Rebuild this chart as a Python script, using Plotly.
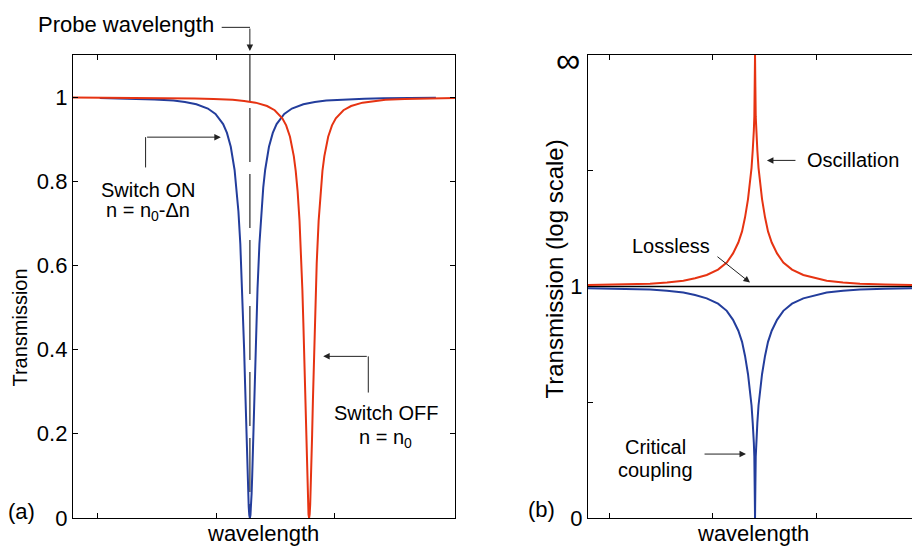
import plotly.graph_objects as go

# ---------------- Panel (a): transmission vs wavelength (arbitrary units 0-100) ----------------
a_blue_x = [7.0, 11.3, 16.3, 21.3, 26.3, 29.3, 32.3, 35.3, 37.3, 39.3, 40.3, 41.3, 42.3, 42.8, 43.3,
            43.8, 44.3, 44.55, 44.8, 45.05, 45.3, 45.5, 45.7, 45.85, 46.0, 46.15, 46.3,
            46.45, 46.6, 46.75, 46.9, 47.1, 47.3, 47.55, 47.8, 48.05, 48.3, 48.8, 49.3, 49.8, 50.3,
            51.3, 52.3, 53.3, 55.3, 57.3, 60.3, 63.3, 66.3, 71.3, 76.3, 81.3, 86.3, 95]
a_blue_T = [0.9978, 0.9973, 0.996, 0.9947, 0.992, 0.9885, 0.983, 0.973, 0.960, 0.936, 0.915, 0.882, 0.827,
            0.785, 0.729, 0.651, 0.544, 0.478, 0.40, 0.318, 0.23, 0.160, 0.097, 0.057, 0.026, 0.0067, 0.0,
            0.0067, 0.026, 0.057, 0.097, 0.160, 0.23, 0.318, 0.40, 0.478, 0.544, 0.651, 0.729, 0.785, 0.827,
            0.882, 0.915, 0.936, 0.960, 0.973, 0.983, 0.9885, 0.992, 0.9947, 0.996, 0.9973, 0.9978, 0.9986]
a_red_x = [0, 16.8, 23.6, 31.8, 36.8, 41.8, 44.8, 47.8, 50.8, 52.8, 54.8, 55.8, 56.8, 57.8, 58.3, 58.8,
           59.3, 59.8, 60.05, 60.3, 60.55, 60.8, 61.0, 61.2, 61.35, 61.5, 61.65, 61.8,
           61.95, 62.1, 62.25, 62.4, 62.6, 62.8, 63.05, 63.3, 63.55, 63.8, 64.3, 64.8, 65.3, 65.8,
           66.8, 67.8, 68.8, 70.8, 72.8, 75.8, 78.8, 81.8, 86.8, 91.8, 100]
a_red_T = [0.9993, 0.9987, 0.9982, 0.997, 0.9959, 0.994, 0.991, 0.987, 0.979, 0.969, 0.950, 0.933, 0.906,
           0.860, 0.825, 0.776, 0.706, 0.606, 0.541, 0.464, 0.375, 0.278, 0.198, 0.122, 0.072, 0.033, 0.0086, 0.0,
           0.0086, 0.033, 0.072, 0.122, 0.198, 0.278, 0.375, 0.464, 0.541, 0.606, 0.706, 0.776, 0.825, 0.860,
           0.906, 0.933, 0.950, 0.969, 0.979, 0.987, 0.991, 0.994, 0.9959, 0.997, 0.9982]
probe_x = 46.3
a_xticks = [6.5, 37.5, 68.5]
a_yticks = [0, 0.2, 0.4, 0.6, 0.8, 1.0]
a_yticklabels = ["0", "0.2", "0.4", "0.6", "0.8", "1"]

# ---------------- Panel (b): schematic log axis (0 -> T=0, 1 -> T=1, 2 -> T=inf) ----------------
b_x = [0, 11.05, 18.5, 23.57, 28.43, 31.92, 35.40, 38.77, 41.37, 43.24, 44.82, 45.93, 46.82, 47.71,
       48.31, 48.76, 49.11, 49.29, 49.44, 49.59, 49.70, 49.8,
       49.90, 50.01, 50.16, 50.31, 50.49, 50.84, 51.29, 51.89, 52.78, 53.67, 54.78, 56.36, 58.24,
       60.83, 64.20, 67.68, 71.17, 76.03, 81.10, 88.55, 96.6]
b_oscillation = [1.007, 1.009, 1.012, 1.017, 1.025, 1.036, 1.050, 1.073, 1.104, 1.143, 1.19, 1.238, 1.299,
                 1.378, 1.443, 1.513, 1.588, 1.623, 1.673, 1.733, 1.863, 2.0,
                 1.863, 1.733, 1.673, 1.623, 1.588, 1.513, 1.443, 1.378, 1.299, 1.238, 1.19, 1.143, 1.104,
                 1.073, 1.050, 1.036, 1.025, 1.017, 1.012, 1.009, 1.007]
b_critical = [0.992, 0.990, 0.987, 0.982, 0.974, 0.963, 0.949, 0.926, 0.895, 0.856, 0.809, 0.761, 0.70,
              0.621, 0.556, 0.486, 0.411, 0.376, 0.326, 0.266, 0.136, 0.0,
              0.136, 0.266, 0.326, 0.376, 0.411, 0.486, 0.556, 0.621, 0.70, 0.761, 0.809, 0.856, 0.895,
              0.926, 0.949, 0.963, 0.974, 0.982, 0.987, 0.990, 0.992]
b_lossless_x = [0, 96.6]
b_lossless = [1.0, 1.0]
b_xticks = [6.26, 37.26, 68.26]
b_yticks = [0, 0.5, 1, 1.5, 2]
b_yticklabels = ["0", "", "1", "", ""]

BLUE = "#233d9c"
RED = "#e63312"
FONT = "Liberation Sans, Arial, Helvetica, sans-serif"
W = 912
REF_H = 546      # height of the target picture
FIG_H = 560      # figure height (the capture is squeezed to REF_H)


def P(xp, yp):
    """target-picture pixel position -> paper coordinates (layout placement only)"""
    return xp / W, 1 - yp / REF_H


fig = go.Figure()
fig.add_trace(go.Scatter(x=a_blue_x, y=a_blue_T, mode="lines", line=dict(color=BLUE, width=2),
                         xaxis="x", yaxis="y", showlegend=False, hoverinfo="skip"))
fig.add_trace(go.Scatter(x=a_red_x, y=a_red_T, mode="lines", line=dict(color=RED, width=2),
                         xaxis="x", yaxis="y", showlegend=False, hoverinfo="skip"))
fig.add_trace(go.Scatter(x=b_lossless_x, y=b_lossless, mode="lines", line=dict(color="black", width=1.5),
                         xaxis="x2", yaxis="y2", showlegend=False, hoverinfo="skip"))
fig.add_trace(go.Scatter(x=b_x, y=b_critical, mode="lines", line=dict(color=BLUE, width=2),
                         xaxis="x2", yaxis="y2", showlegend=False, hoverinfo="skip"))
fig.add_trace(go.Scatter(x=b_x, y=b_oscillation, mode="lines", line=dict(color=RED, width=2),
                         xaxis="x2", yaxis="y2", showlegend=False, hoverinfo="skip"))

ydom = [P(0, 517)[1], P(0, 55)[1]]
axis_common = dict(showline=True, linecolor="black", linewidth=1.3, ticks="inside", ticklen=5,
                   tickcolor="black", tickwidth=1, showgrid=False, zeroline=False,
                   tickfont=dict(family=FONT, size=22, color="black"))

fig.update_layout(
    width=W, height=FIG_H, autosize=False, margin=dict(l=0, r=0, t=0, b=0, pad=0),
    paper_bgcolor="white", plot_bgcolor="white",
    font=dict(family=FONT, color="black"),
    xaxis=dict(domain=[73 / W, 455 / W], range=[0, 100], tickvals=a_xticks, showticklabels=False,
               mirror="ticks", anchor="y", **axis_common),
    yaxis=dict(domain=ydom, range=[0, 1.1], tickvals=a_yticks, ticktext=a_yticklabels,
               mirror="ticks", anchor="x", ticklabelstandoff=0, **axis_common),
    xaxis2=dict(domain=[588 / W, 1.0], range=[0, 96.6], tickvals=b_xticks, showticklabels=False,
                mirror="ticks", anchor="y2", **axis_common),
    yaxis2=dict(domain=ydom, range=[0, 2], tickvals=b_yticks, ticktext=b_yticklabels,
                anchor="x2", ticklabelstandoff=0, **axis_common),
)

ann = []


def text(x, y, s, size=20, xref="paper", yref="paper", angle=0):
    ann.append(dict(x=x, y=y, xref=xref, yref=yref, text=s, showarrow=False, textangle=angle,
                    font=dict(family=FONT, size=size, color="black"), xanchor="center", yanchor="middle"))


def arrow(xh, yh, xt, yt, xref="x", yref="y"):
    ann.append(dict(x=xh, y=yh, ax=xt, ay=yt, xref=xref, yref=yref, axref=xref, ayref=yref, text="",
                    showarrow=True, arrowhead=2, arrowsize=1.3, arrowwidth=1, arrowcolor="#222", standoff=0))


# panel (a) texts
px, py = P(125.5, 24)
text(px, py, "Probe wavelength", size=22)
text(19.6, 0.779, "Switch ON", xref="x", yref="y")
text(19.6, 0.728, "n = n<sub>0</sub>-Δn", xref="x", yref="y")
text(81.9, 0.25, "Switch OFF", xref="x", yref="y")
text(81.9, 0.19, "n = n<sub>0</sub>", xref="x", yref="y")
px, py = P(21, 511)
text(px, py, "(a)", size=22)
px, py = P(263, 533)
text(px, py, "wavelength", size=22)
px, py = P(20, 327)
text(px, py, "Transmission", size=20, angle=-90)

# panel (b) texts
px, py = P(753, 533)
text(px, py, "wavelength", size=22)
px, py = P(554, 269)
text(px, py, "Transmission (log scale)", size=24, angle=-90)
px, py = P(541, 509)
text(px, py, "(b)", size=22)
px, py = P(567.5, 59.5)
text(px, py, "∞", size=34)
text(79.0, 1.545, "Oscillation", xref="x2", yref="y2")
text(24.7, 1.175, "Lossless", xref="x2", yref="y2")
text(20.2, 0.307, "Critical", xref="x2", yref="y2")
text(20.2, 0.208, "coupling", xref="x2", yref="y2")

# arrows
arrow(38.7, 0.905, 19.0, 0.905)
arrow(65.5, 0.384, 77.3, 0.384)
arrow(53.35, 1.545, 62.3, 1.545, "x2", "y2")
arrow(48.3, 1.017, 38.15, 1.134, "x2", "y2")
arrow(47.1, 0.276, 34.3, 0.276, "x2", "y2")
# probe arrow (from above the plot down to its top)
ann.append(dict(x=probe_x, y=P(0, 51)[1], xref="x", yref="paper", ax=0, ay=-24, text="",
                showarrow=True, arrowhead=2, arrowsize=1.3, arrowwidth=1, arrowcolor="#222", standoff=0))
fig.update_layout(annotations=ann)

shapes = [
    # probe wavelength marker line
    dict(type="line", xref="x", yref="y", x0=probe_x, x1=probe_x, y0=1.1, y1=0.989,
         line=dict(color="#555", width=1.5), layer="below"),
    dict(type="line", xref="x", yref="y", x0=probe_x, x1=probe_x, y0=0.974, y1=0.0,
         line=dict(color="#555", width=1.5, dash="54px,12px"), layer="below"),
    # elbow leaders
    dict(type="line", xref="x", yref="y", x0=19.0, x1=19.0, y0=0.833, y1=0.905,
         line=dict(color="#222", width=1)),
    dict(type="line", xref="x", yref="y", x0=77.3, x1=77.3, y0=0.298, y1=0.384,
         line=dict(color="#222", width=1)),
    dict(type="line", xref="paper", yref="paper", x0=P(221.7, 0)[0], x1=P(250, 0)[0],
         y0=P(0, 27.3)[1], y1=P(0, 27.3)[1], line=dict(color="#222", width=1)),
]
fig.update_layout(shapes=shapes)

fig.write_html("out.html", config={"responsive": False, "displayModeBar": False})
